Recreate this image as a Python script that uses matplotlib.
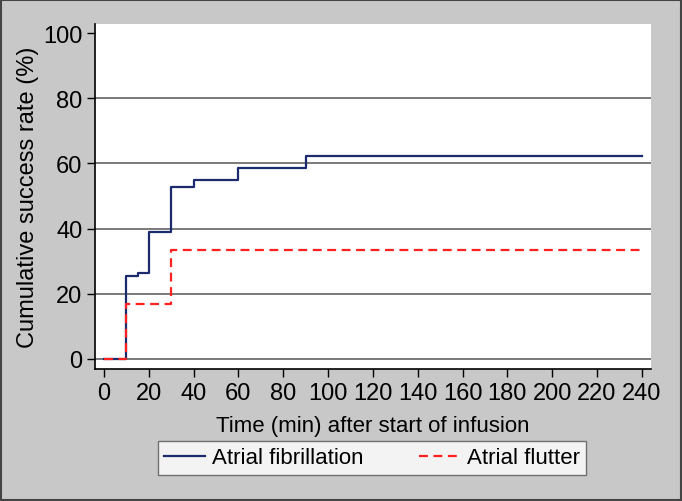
import matplotlib.pyplot as plt
from matplotlib.patches import Rectangle

plt.rcParams['font.family'] = ['Liberation Sans', 'DejaVu Sans']

# ========= data =========
af_time = [0, 10, 15, 20, 30, 40, 60, 90, 240]
af_rate = [0, 25.4, 26.3, 39.0, 52.9, 54.8, 58.5, 62.2, 62.2]

afl_time = [0, 10, 30, 240]
afl_rate = [0, 16.7, 33.3, 33.3]

x_ticks = list(range(0, 241, 20))
y_ticks = [0, 20, 40, 60, 80, 100]
grid_levels = [0, 20, 40, 60, 80]

bg = '#c8c8c8'
fs = 16

fig = plt.figure(figsize=(6.82, 5.02), dpi=100, facecolor=bg)
ax = fig.add_axes([95 / 682, 1 - 370 / 502, (651 - 95) / 682, (370 - 25) / 502])
ax.set_facecolor('white')

for g in grid_levels:
    ax.axhline(g, color='#7a7a7a', lw=1.4, zorder=1)

ax.step(af_time, af_rate, where='post', color='#1a2a6c', lw=1.6,
        label='Atrial fibrillation', zorder=3)
ax.step(afl_time, afl_rate, where='post', color='#ff2020', lw=1.6,
        ls=(0, (4, 2.5)), label='Atrial flutter', zorder=4)

ax.set_xlim(-4.0, 244.1)
ax.set_ylim(-3.1, 102.8)
ax.set_xticks(x_ticks)
ax.set_yticks(y_ticks)

for s in ['top', 'right']:
    ax.spines[s].set_visible(False)
for s in ['left', 'bottom']:
    ax.spines[s].set_color('black')
    ax.spines[s].set_linewidth(1.2)

ax.tick_params(axis='both', direction='out', length=6, width=1.0,
               labelsize=17, colors='black', pad=3)

ax.set_ylabel('Cumulative success rate (%)', fontsize=17, labelpad=3)
ax.set_xlabel('Time (min) after start of infusion', fontsize=fs, labelpad=8)

leg = fig.legend(loc='center', bbox_to_anchor=(372 / 682, 1 - 459 / 502),
                 ncol=2, fontsize=fs, frameon=True, fancybox=False,
                 handlelength=1.85, handletextpad=0.32, columnspacing=2.5,
                 borderpad=0.28, borderaxespad=0)
leg.get_frame().set_edgecolor('#555555')
leg.get_frame().set_linewidth(1.0)
leg.get_frame().set_facecolor('white')

# outer border of the graph region
fig.patches.append(Rectangle((0.001, 0.001), 0.998, 0.997, transform=fig.transFigure,
                             fill=False, edgecolor='#444444', lw=1.5))

plt.savefig('out.png', dpi=100, facecolor=bg)
